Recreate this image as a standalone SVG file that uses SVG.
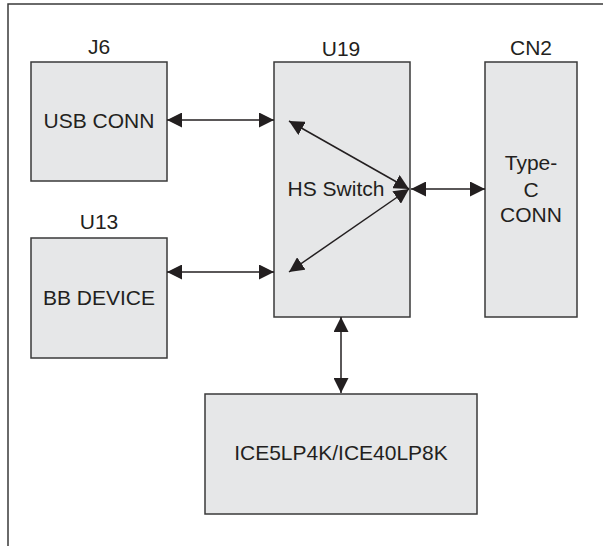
<svg xmlns="http://www.w3.org/2000/svg" width="603" height="546" viewBox="0 0 603 546">
<style>
.box{fill:#e6e7e8;stroke:#3a3a3a;stroke-width:1.5}
.t{font-family:"Liberation Sans",Arial,sans-serif;font-size:21px;fill:#231f20;text-anchor:middle}
.c{stroke:#231f20;stroke-width:1.5;fill:none;marker-start:url(#ah);marker-end:url(#ah)}
.frame{stroke:#3a3a3a;stroke-width:1.5;fill:none}
</style>
<defs>
<marker id="ah" viewBox="0 0 15 15" refX="15" refY="7.5" markerWidth="15" markerHeight="15" markerUnits="userSpaceOnUse" orient="auto-start-reverse">
<path d="M0,0 L15,7.5 L0,15 z" fill="#231f20"/>
</marker>
</defs>
<rect width="603" height="546" fill="#ffffff"/>
<path class="frame" d="M8,546 V4 H603"/>
<g id="J6">
<text class="t" x="99" y="54">J6</text>
<rect class="box" x="31" y="62" width="136" height="119"/>
<text class="t" x="99" y="128">USB CONN</text>
</g>
<g id="U13">
<text class="t" x="99" y="229">U13</text>
<rect class="box" x="31" y="238" width="136" height="120"/>
<text class="t" x="99" y="305">BB DEVICE</text>
</g>
<g id="U19">
<text class="t" x="341" y="56">U19</text>
<rect class="box" x="274" y="62" width="136" height="255"/>
<text class="t" x="336" y="196">HS Switch</text>
</g>
<g id="CN2">
<text class="t" x="531" y="55">CN2</text>
<rect class="box" x="485" y="62" width="92" height="255"/>
<text class="t" x="531" y="170">Type-</text>
<text class="t" x="531" y="197">C</text>
<text class="t" x="531" y="222">CONN</text>
</g>
<g id="ICE">
<rect class="box" x="205" y="394" width="272" height="120"/>
<text class="t" x="341" y="460">ICE5LP4K/ICE40LP8K</text>
</g>
<g id="connectors">
<line class="c" x1="167" y1="120" x2="274" y2="120"/>
<line class="c" x1="167" y1="272" x2="274" y2="272"/>
<line class="c" x1="289" y1="121" x2="409" y2="189"/>
<line class="c" x1="289" y1="272" x2="409" y2="189"/>
<line class="c" x1="411" y1="189" x2="485" y2="189"/>
<line class="c" x1="341" y1="317" x2="341" y2="393"/>
</g>
</svg>
